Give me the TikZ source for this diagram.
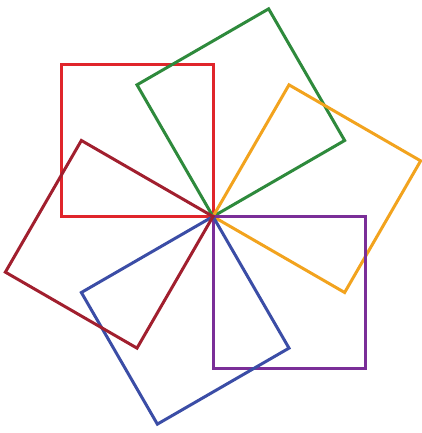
\documentclass[tikz,border=0pt]{standalone}
\definecolor{cred}{HTML}{E0252B}
\definecolor{cgreen}{HTML}{2E8A3C}
\definecolor{corange}{HTML}{F2A31E}
\definecolor{cpurple}{HTML}{7A2E98}
\definecolor{cblue}{HTML}{3B4DA6}
\definecolor{cdred}{HTML}{A11F2E}
\begin{document}
\begin{tikzpicture}[x=1pt,y=1pt,sq/.style={line width=3pt,line join=miter}]
\useasboundingbox (0,0) rectangle (422,433);
\coordinate (c) at (213,216.5);
\foreach \ang/\col in {0/cred,-60/cgreen,-120/corange,-180/cpurple,-240/cblue,-300/cdred}{
  \draw[sq,draw=\col,rotate around={\ang:(c)}] (c) rectangle ++(-152,152);
}
\end{tikzpicture}
\end{document}
